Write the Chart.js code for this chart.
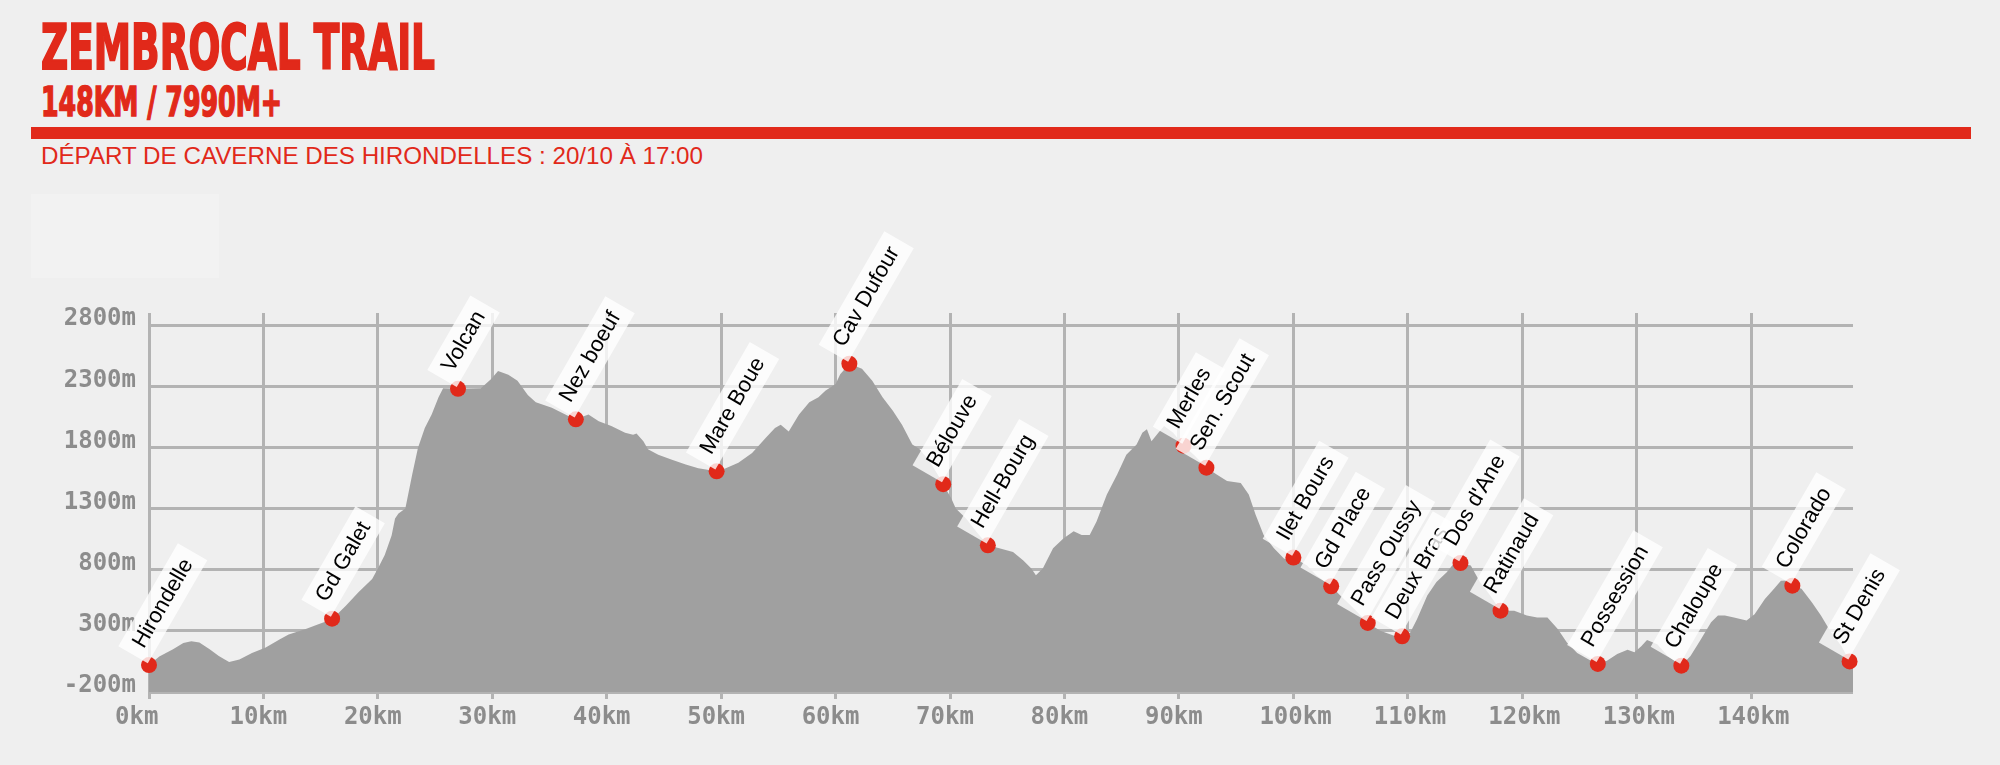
<!DOCTYPE html>
<html>
<head>
<meta charset="utf-8">
<script src="https://cdn.jsdelivr.net/npm/chart.js@4.4.1/dist/chart.umd.min.js"></script>
<style>
  html, body { margin: 0; padding: 0; }
  body { width: 2000px; height: 765px; background: #efefef; position: relative; overflow: hidden; }
  .head { position: absolute; color: #e1291a; white-space: nowrap; transform-origin: 0 0; }
  #title { left: 41px; top: 16px; font: bold 63px/1 "DejaVu Sans Condensed", "DejaVu Sans", sans-serif; font-stretch: condensed; -webkit-text-stroke: 2px #e1291a; }
  #subtitle { left: 41px; top: 82px; font: bold 41px/1 "DejaVu Sans Condensed", "DejaVu Sans", sans-serif; font-stretch: condensed; -webkit-text-stroke: 1.5px #e1291a; }
  #bar { position: absolute; left: 31px; top: 127px; width: 1940px; height: 12px; background: #e1291a; }
  #depart { left: 41px; top: 144px; font: 24px/1 "Liberation Sans", Arial, sans-serif; }
  #blank { position: absolute; left: 31px; top: 194px; width: 188px; height: 84px; background: #f2f2f2; }
  #chart { position: absolute; left: 0; top: 0; }
</style>
</head>
<body>
<div id="title" class="head">ZEMBROCAL TRAIL</div>
<div id="subtitle" class="head">148KM / 7990M+</div>
<div id="bar"></div>
<div id="depart" class="head">DÉPART DE CAVERNE DES HIRONDELLES : 20/10 À 17:00</div>
<div id="blank"></div>
<canvas id="chart" width="2000" height="765"></canvas>
<script>
// profil altimétrique (km / altitude en m)
const profileKm = [0, 0.9, 2.1, 3.0, 3.7, 4.4, 5.3, 6.1, 7.0, 7.9, 9.0, 10.2, 11.4, 12.2, 13.7, 14.8, 16.0, 17.2, 18.3, 19.5,
  20.0, 20.6, 21.2, 21.5, 21.8, 22.4, 23.0, 23.5, 24.1, 24.7, 25.3, 25.7, 27.0, 29.0, 29.9, 30.5, 31.4, 32.2, 33.1, 33.8,
  35.2, 36.6, 37.3, 38.4, 39.3, 40.4, 41.6, 42.3, 42.6, 43.2, 43.6, 44.5, 45.7, 46.9, 48.0, 49.6, 50.4, 51.5, 52.7, 53.9,
  54.7, 55.2, 55.9, 56.8, 57.7, 58.5, 59.1, 60.0, 60.4, 61.2, 62.3, 63.2, 64.1, 65.0, 65.8, 66.7, 67.3, 68.2, 69.1, 69.4,
  70.1, 70.5, 71.4, 72.3, 73.3, 74.3, 75.5, 76.4, 77.1, 77.5, 78.1, 79.0, 79.9, 80.8, 81.5, 82.2, 82.8, 83.7, 84.6, 85.4,
  86.3, 86.8, 87.2, 87.6, 88.2, 88.7, 89.5, 90.4, 91.3, 92.4, 93.3, 94.2, 95.4, 96.1, 96.7, 97.4, 98.3, 99.2, 100.0, 101.2,
  102.0, 103.3, 104.1, 105.3, 106.5, 107.6, 108.8, 109.5, 110.2, 110.8, 111.7, 112.5, 113.4, 114.0, 114.6, 115.5, 116.3, 117.2, 118.1, 119.3,
  120.4, 121.3, 122.2, 123.1, 123.9, 124.8, 126.0, 126.6, 127.4, 128.3, 129.2, 129.8, 130.4, 130.9, 131.8, 132.7, 133.9, 134.7, 135.6, 136.5,
  137.1, 137.7, 138.5, 139.6, 140.3, 141.2, 142.0, 142.6, 143.2, 143.6, 144.4, 145.3, 146.1, 147.0, 147.9, 148.6, 148.9];
const profileElev = [20, 90, 150, 200, 215, 205, 150, 95, 45, 65, 120, 165, 230, 270, 315, 355, 395, 505, 615, 725,
  810, 920, 1080, 1220, 1260, 1300, 1580, 1795, 1960, 2070, 2210, 2285, 2280, 2285, 2360, 2425, 2395, 2345, 2230, 2170,
  2125, 2060, 2030, 2070, 2015, 1975, 1920, 1905, 1915, 1850, 1785, 1740, 1700, 1660, 1630, 1605, 1630, 1675, 1755, 1880,
  1960, 1985, 1930, 2070, 2170, 2210, 2265, 2320, 2400, 2485, 2445, 2345, 2210, 2100, 1985, 1825, 1790, 1690, 1550, 1500,
  1385, 1300, 1220, 1110, 1000, 975, 945, 875, 810, 755, 810, 975, 1055, 1115, 1085, 1085, 1195, 1415, 1580, 1740,
  1825, 1920, 1950, 1850, 1920, 1975, 1920, 1815, 1740, 1635, 1580, 1525, 1510, 1415, 1250, 1085, 975, 890, 900, 835,
  755, 665, 590, 480, 365, 300, 260, 255, 285, 395, 590, 700, 780, 850, 855, 835, 700, 590, 465, 465,
  425, 410, 410, 315, 205, 120, 55, 30, 55, 110, 145, 125, 175, 225, 190, 95, 15, 95, 230, 370,
  425, 425, 410, 385, 435, 560, 645, 710, 712, 670, 645, 535, 425, 285, 175, 50, 40];

// points de passage
const wpNames = ['Hirondelle', 'Gd Galet', 'Volcan', 'Nez boeuf', 'Mare Boue', 'Cav Dufour', 'Bélouve', 'Hell-Bourg',
  'Merles', 'Sen. Scout', 'Ilet Bours', 'Gd Place', 'Pass Oussy', 'Deux Bras', "Dos d'Ane", 'Ratinaud',
  'Possession', 'Chaloupe', 'Colorado', 'St Denis'];
const wpKm = [0, 16.0, 27.0, 37.3, 49.6, 61.2, 69.4, 73.3, 90.4, 92.4, 100.0, 103.3, 106.5, 109.5, 114.6, 118.1, 126.6, 133.9, 143.6, 148.6];
const wpElev = [20, 400, 2280, 2030, 1605, 2485, 1500, 1000, 1815, 1635, 900, 665, 365, 255, 855, 465, 30, 15, 670, 50];

// graduations
const xTicks = [0, 10, 20, 30, 40, 50, 60, 70, 80, 90, 100, 110, 120, 130, 140];
const yTicks = [-200, 300, 800, 1300, 1800, 2300, 2800];

// titres : on resserre la police pour imiter une police condensée
function fitWidth(id, target) {
  const el = document.getElementById(id);
  const w = el.getBoundingClientRect().width;
  el.style.transform = 'scaleX(' + (target / w) + ')';
}
fitWidth('title', 394);
fitWidth('subtitle', 241);
fitWidth('depart', 662);

const RED = '#e1291a';
const GRID = '#b3b3b3';
const TICK = '#8c8c8c';
const tickFont = { family: '"DejaVu Sans Mono", monospace', size: 24, weight: 'bold' };

const waypointLabels = {
  id: 'waypointLabels',
  afterDatasetsDraw(chart) {
    const meta = chart.getDatasetMeta(1);
    const ctx = chart.ctx;
    ctx.save();
    ctx.font = '22px "Liberation Sans", Arial, sans-serif';
    meta.data.forEach((pt, i) => {
      const name = wpNames[i];
      const w = ctx.measureText(name).width + 20;
      ctx.save();
      ctx.translate(pt.x, pt.y);
      ctx.rotate(-Math.PI / 3);
      ctx.fillStyle = 'rgba(255,255,255,0.8)';
      ctx.fillRect(1, -36, w, 34);
      ctx.fillStyle = '#000';
      ctx.textBaseline = 'middle';
      ctx.fillText(name, 11, -18.5);
      ctx.restore();
    });
    ctx.restore();
  }
};

const ctx = document.getElementById('chart').getContext('2d');
new Chart(ctx, {
  data: {
    datasets: [{
      type: 'line',
      data: profileKm.map((k, i) => ({ x: k, y: profileElev[i] })),
      fill: 'start',
      backgroundColor: '#a0a0a0',
      borderWidth: 0,
      pointRadius: 0,
      tension: 0,
      order: 2
    }, {
      type: 'scatter',
      data: wpKm.map((k, i) => ({ x: k, y: wpElev[i] })),
      backgroundColor: RED,
      borderWidth: 0,
      pointRadius: 8,
      clip: false,
      order: 1
    }]
  },
  options: {
    responsive: false,
    animation: false,
    events: [],
    layout: { padding: { left: 0, right: 147, top: 313, bottom: 0 } },
    plugins: { legend: { display: false }, tooltip: { enabled: false } },
    scales: {
      x: {
        type: 'linear',
        min: 0,
        max: 148.9,
        afterBuildTicks: s => { s.ticks = xTicks.map(v => ({ value: v })); },
        afterFit: s => { s.height = 73; },
        border: { display: false },
        grid: { color: GRID, lineWidth: 3, drawTicks: true, tickLength: 7, tickColor: GRID },
        ticks: {
          font: tickFont,
          color: TICK,
          align: 'start',
          labelOffset: -34,
          padding: 4,
          maxRotation: 0,
          autoSkip: false,
          callback: v => v + 'km'
        }
      },
      y: {
        min: -200,
        max: 2900,
        afterBuildTicks: s => { s.ticks = yTicks.map(v => ({ value: v })); },
        afterFit: s => { s.width = 149; },
        border: { display: false },
        grid: { color: GRID, lineWidth: 3, drawTicks: false },
        ticks: {
          font: tickFont,
          color: TICK,
          padding: 13,
          labelOffset: -6,
          callback: v => v + 'm'
        }
      }
    }
  },
  plugins: [waypointLabels]
});
</script>
</body>
</html>
